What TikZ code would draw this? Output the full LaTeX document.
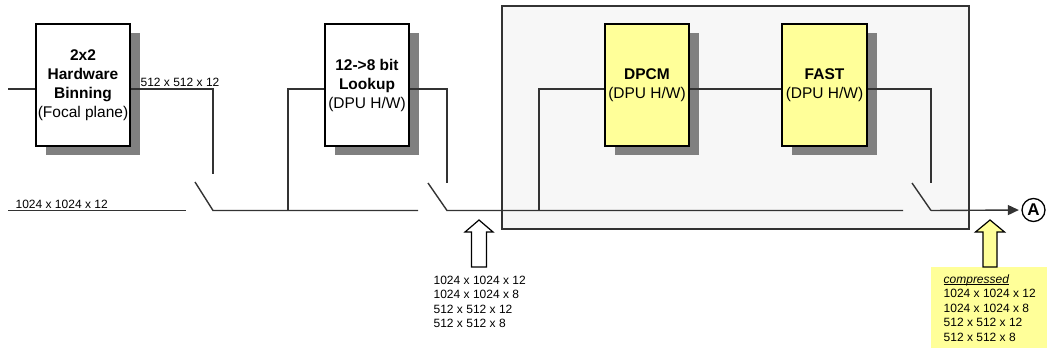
\documentclass[tikz,border=0pt]{standalone}
\usepackage{fontspec}
\setmainfont{Liberation Sans}
\usetikzlibrary{arrows.meta,shadows}
\definecolor{lyel}{HTML}{FFFF99}
\definecolor{shad}{HTML}{808080}
\definecolor{bgbox}{HTML}{F7F7F7}
\definecolor{wire}{HTML}{333333}
\begin{document}
\begin{tikzpicture}[x=1pt,y=-1pt,line width=1.3pt,
  wireline/.style={draw=wire,line width=1.4pt},
  blockbox/.style={draw=black,line width=1.3pt,fill=white,align=center,inner sep=0pt,
    minimum height=122pt,font=\fontsize{15.5}{19}\selectfont,
    drop shadow={shadow xshift=10pt,shadow yshift=-9pt,fill=shad,opacity=1}},
  ylbox/.style={blockbox,fill=lyel},
  lbl/.style={inner sep=0pt,align=left,font=\fontsize{12}{14.5}\selectfont},
  hollow/.style={draw=black,line width=1.2pt,fill=white}]
\useasboundingbox (0,0) rectangle (1047,350);
% grey frame
\node[draw=wire,fill=bgbox,line width=1.2pt,minimum width=467pt,minimum height=223pt,inner sep=0pt] (frame) at (735.5,117.5) {};
% blocks
\node[blockbox,minimum width=94pt] (bin) at (83,85) {\textbf{2x2}\\\textbf{Hardware}\\\textbf{Binning}\\(Focal plane)};
\node[blockbox,minimum width=84pt] (look) at (367,85) {\textbf{12->8 bit}\\\textbf{Lookup}\\(DPU H/W)};
\node[ylbox,minimum width=84pt] (dpcm) at (647,85) {\textbf{DPCM}\\(DPU H/W)};
\node[ylbox,minimum width=85pt] (fast) at (824.5,85) {\textbf{FAST}\\(DPU H/W)};
\node[draw=black,circle,line width=1.3pt,minimum size=23pt,inner sep=0pt,font=\fontsize{17}{17}\selectfont\bfseries] (A) at (1033.5,210) {A};
% coordinates
\coordinate (in1) at (8,89);
\coordinate (s1top) at (213,174);
\coordinate (in2) at (8,210.5);
\coordinate (in2e) at (186,210.5);
\coordinate (s1a) at (195,182);
\coordinate (s1b) at (213,210.5);
\coordinate (m1e) at (418,210.5);
\coordinate (br1) at (288,210.5);
\coordinate (s2top) at (447,183);
\coordinate (s2a) at (428,183);
\coordinate (s2b) at (447,210.5);
\coordinate (m2e) at (903,210.5);
\coordinate (br2) at (539,210.5);
\coordinate (s3top) at (931,183);
\coordinate (s3a) at (912,183);
\coordinate (s3b) at (931,210.5);
% wires
\draw[wireline] (in1) -- ([yshift=-4pt]bin.west);
\draw[wireline] ([yshift=-4pt]bin.east) -| (s1top);
\draw[wireline] (in2) -- (in2e);
\draw[wireline] (s1a) -- (s1b) -- (m1e);
\draw[wireline] (br1) |- ([yshift=-4pt]look.west);
\draw[wireline] ([yshift=-4pt]look.east) -| (s2top);
\draw[wireline] (s2a) -- (s2b) -- (m2e);
\draw[wireline] (br2) |- ([yshift=-4pt]dpcm.west);
\draw[wireline] ([yshift=-4pt]dpcm.east) -- ([yshift=-4pt]fast.west);
\draw[wireline] ([yshift=-4pt]fast.east) -| (s3top);
\draw[wireline] (s3a) -- (s3b);
\draw[wireline,-{Triangle[length=11pt,width=10pt]},shorten >=2.5pt] (s3b) -- (A.west);
% labels
\node[lbl,anchor=base west] (l512) at (140,87) {512 x 512 x 12};
\node[lbl,anchor=base west] (l1024) at (15,208) {1024 x 1024 x 12};
% hollow arrows
\draw[hollow] (479,220) -- (493,232) -- (486.5,232) -- (486.5,267) -- (471.5,267) -- (471.5,232) -- (465,232) -- cycle;
\node[lbl,anchor=north west] (fmt) at (433,275) {1024 x 1024 x 12\\1024 x 1024 x 8\\512 x 512 x 12\\512 x 512 x 8};
\fill[lyel] (931,267) rectangle (1047,348);
\draw[hollow,fill=lyel] (990,220) -- (1004.5,232) -- (997,232) -- (997,267) -- (983,267) -- (983,232) -- (975.5,232) -- cycle;
\node[lbl,anchor=north west] (cmp) at (943,274) {\mbox{\underline{\smash{\textit{compressed}}}\vphantom{Cp}}\\1024 x 1024 x 12\\1024 x 1024 x 8\\512 x 512 x 12\\512 x 512 x 8};
\end{tikzpicture}
\end{document}
